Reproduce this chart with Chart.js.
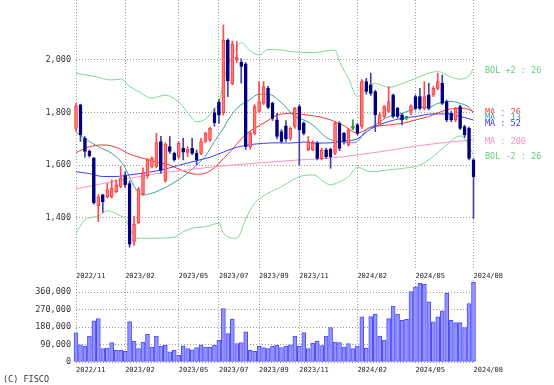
<!DOCTYPE html>
<html><head><meta charset="utf-8">
<script src="https://cdn.jsdelivr.net/npm/chart.js@4.4.1/dist/chart.umd.min.js"></script>
<style>
html,body{margin:0;padding:0;background:#fff;}
#wrap{position:relative;width:554px;height:385px;overflow:hidden;background:#fff;}
#c1{position:absolute;left:0;top:0;}
#c2{position:absolute;left:0;top:270px;}
.lbl{position:absolute;font:8.5px 'DejaVu Sans Mono',monospace;white-space:nowrap;line-height:8px;background:#fff;}
</style></head><body>
<div id="wrap">
<canvas id="c1" width="554" height="282"></canvas>
<canvas id="c2" width="554" height="115"></canvas>
<div class="lbl" style="left:485px;top:66px;color:#5ccf7c">BOL +2 : 26</div>
<div class="lbl" style="left:485px;top:108px;color:#ff3a3a">MA : 26</div>
<div class="lbl" style="left:485px;top:113px;color:#3a9f9f">MA : 13</div>
<div class="lbl" style="left:485px;top:119px;color:#3434ff">MA : 52</div>
<div class="lbl" style="left:485px;top:137px;color:#ff8cc6">MA : 200</div>
<div class="lbl" style="left:485px;top:152px;color:#5ccf7c">BOL -2 : 26</div>
<div class="lbl" style="left:3px;top:375px;color:#333;background:transparent">(C) FISCO</div>
</div>
<script>
// ---- tick labels (x positions are week indices) ----
const dateTickIdx = [0, 11, 23, 32, 41, 50, 63, 76, 89];
const dateTickLabels = ['2022/11','2023/02','2023/05','2023/07','2023/09','2023/11','2024/02','2024/05','2024/08'];
const priceTicks = [1400, 1600, 1800, 2000];
const volumeTicks = [0, 90000, 180000, 270000, 360000];

// ---- weekly candles ----
const open  = [1740,1829,1702,1654,1626,1445,1487,1480,1480,1499,1518,1560,1530,1310,1380,1490,1560,1595,1595,1690,
               1540,1671,1645,1632,1664,1648,1664,1645,1645,1690,1696,1800,1840,1800,2076,1910,2000,1992,1985,1669,
               1721,1804,1835,1892,1835,1772,1728,1750,1702,1747,1823,1759,1658,1658,1683,1626,1658,1660,1645,1759,
               1721,1677,1740,1753,1747,1918,1905,1880,1759,1785,1804,1867,1816,1791,1778,1804,1861,1861,1816,1867,
               1867,1892,1911,1842,1797,1772,1823,1747,1740,1620];
const high  = [1835,1832,1709,1658,1630,1488,1490,1530,1544,1544,1595,1575,1540,1405,1515,1590,1625,1632,1721,1710,
               1685,1709,1650,1690,1702,1671,1702,1658,1702,1725,1745,1815,1850,2133,2080,2072,2070,2005,1990,1727,
               1830,1918,1918,1900,1840,1797,1735,1770,1745,1820,1830,1765,1709,1693,1690,1665,1665,1665,1765,1765,
               1725,1740,1772,1760,1925,1930,1950,1885,1800,1828,1899,1870,1820,1797,1785,1829,1867,1892,1918,1911,
               1899,1950,1943,1848,1805,1820,1828,1752,1745,1625];
const low   = [1728,1690,1630,1630,1452,1385,1420,1475,1475,1495,1515,1515,1288,1295,1378,1485,1550,1590,1590,1570,
               1535,1645,1615,1625,1620,1632,1640,1601,1640,1686,1690,1748,1760,1790,1860,1905,1990,1912,1660,1660,
               1715,1800,1830,1815,1770,1700,1685,1690,1695,1740,1601,1715,1655,1655,1620,1620,1626,1588,1640,1655,
               1680,1672,1734,1715,1740,1870,1865,1728,1750,1780,1800,1780,1780,1753,1772,1791,1810,1810,1810,1810,
               1860,1887,1830,1765,1765,1765,1735,1705,1620,1398];
const close = [1825,1715,1652,1636,1457,1480,1461,1506,1512,1525,1550,1525,1300,1375,1510,1570,1620,1626,1686,1580,
               1680,1652,1620,1683,1649,1660,1645,1620,1690,1721,1740,1762,1790,2076,1920,2060,2010,1975,1670,1721,
               1823,1842,1899,1820,1778,1709,1690,1700,1740,1816,1734,1721,1690,1683,1626,1658,1632,1632,1759,1664,
               1690,1734,1742,1721,1918,1880,1873,1791,1791,1823,1842,1785,1785,1772,1780,1825,1816,1816,1861,1816,
               1892,1918,1835,1772,1772,1816,1740,1715,1626,1556];
const volume = [150000,89000,81000,134000,212000,224000,69000,72000,100000,60000,
                60000,55000,208000,108000,69000,103000,143000,77000,133000,81000,
                86000,52000,60000,34000,83000,69000,62000,74000,88000,77000,
                77000,86000,112000,275000,146000,219000,95000,100000,155000,60000,
                55000,81000,74000,69000,81000,86000,74000,81000,88000,134000,
                81000,151000,69000,96000,108000,84000,134000,177000,103000,100000,
                77000,95000,69000,81000,232000,72000,234000,246000,134000,112000,
                224000,288000,246000,215000,219000,362000,387000,405000,400000,310000,
                207000,232000,263000,353000,215000,203000,203000,177000,301000,410000];

// ---- indicator lines: [week index, value] ----
const bolUpper = [[0,1949],[4,1938],[8,1924],[10,1927],[12,1900],[14,1880],[17,1855],[20,1866],[23,1840],[25,1800],
  [27,1765],[29,1775],[31,1815],[32,1835],[33,1920],[35,2015],[37,2066],[39,2035],[41,2019],[43,2040],[46,2038],
  [48,2032],[53,2028],[58,2038],[59,1994],[61,1930],[63,1861],[65,1890],[67,1911],[70,1896],[73,1910],[76,1930],
  [79,1950],[81,1956],[84,1935],[86,1927],[88,1940],[89,1968]];
const bolLower = [[0,1341],[2,1392],[5,1407],[7,1427],[10,1407],[11,1398],[12,1360],[13,1330],[14,1322],[16,1322],
  [22,1326],[24,1347],[26,1360],[29,1366],[32,1379],[33,1341],[36,1322],[38,1395],[40,1455],[43,1493],[46,1518],
  [50,1556],[53,1563],[57,1525],[59,1537],[61,1556],[63,1592],[66,1575],[70,1582],[75,1592],[77,1600],[80,1633],
  [83,1677],[86,1711],[87,1700],[89,1639]];
const ma13 = [[0,1725],[3,1690],[5,1670],[8,1645],[10,1615],[11,1590],[12,1555],[13,1520],[14,1497],[15,1487],
  [17,1493],[20,1515],[23,1545],[25,1570],[27,1600],[29,1635],[31,1690],[32,1715],[33,1740],[34,1770],[36,1816],
  [39,1850],[41,1870],[43,1870],[46,1838],[49,1785],[51,1772],[53,1753],[56,1706],[58,1692],[60,1688],[62,1685],
  [63,1690],[65,1734],[67,1753],[70,1785],[72,1791],[75,1810],[77,1820],[79,1820],[81,1835],[84,1842],[86,1835],
  [88,1820],[89,1797]];
const ma26 = [[0,1648],[3,1670],[6,1677],[9,1668],[12,1642],[15,1626],[18,1612],[21,1600],[24,1578],[27,1565],
  [29,1570],[31,1590],[33,1625],[35,1660],[37,1700],[39,1730],[41,1750],[43,1770],[45,1790],[48,1797],[52,1790],
  [55,1782],[57,1772],[60,1750],[63,1722],[66,1744],[70,1753],[73,1759],[76,1772],[79,1785],[82,1805],[85,1816],
  [87,1816],[89,1804]];
const ma52 = [[0,1575],[3,1568],[6,1557],[9,1557],[12,1563],[15,1570],[18,1578],[21,1590],[24,1604],[27,1617],
  [30,1630],[33,1650],[36,1668],[39,1678],[42,1683],[45,1685],[48,1684],[51,1688],[54,1684],[57,1685],[60,1692],
  [63,1700],[66,1738],[70,1766],[73,1778],[76,1785],[80,1795],[83,1795],[86,1785],[89,1772]];
const ma200 = [[0,1510],[6,1530],[12,1550],[18,1568],[24,1580],[30,1592],[36,1602],[43,1611],[50,1620],[57,1627],
  [63,1639],[70,1656],[76,1672],[83,1687],[89,1696]];

// ---- styling ----
const MONO = "'DejaVu Sans Mono', monospace";
const GRID = '#9a9a9a';
const idx = open.map((_, i) => i);
const kind = idx.map(i => Math.abs(close[i] - open[i]) <= 2 ? 'n' : (close[i] > open[i] ? 'u' : 'd'));
const bodyFill = kind.map(k => k === 'n' ? '#2f9a3a' : (k === 'u' ? '#ff7c7c' : '#000080'));
const bodyEdge = kind.map(k => k === 'n' ? '#2f9a3a' : (k === 'u' ? '#ff3c3c' : '#000080'));
const wickCol  = kind.map(k => k === 'n' ? '#2f9a3a' : (k === 'u' ? '#ff4a4a' : '#4444a8'));

const toXY = arr => arr.map(p => ({x: p[0], y: p[1]}));
const lineDs = (arr, color) => ({
  type: 'line', data: toXY(arr), borderColor: color, borderWidth: 1, pointRadius: 0,
  cubicInterpolationMode: 'monotone', fill: false, order: 5
});

function xScale(h, z) {
  return {
    type: 'linear', min: 0, max: 89, offset: false, z: z,
    grid: {color: GRID, lineWidth: 1, drawTicks: false, offset: false},
    border: {display: false, dash: [1, 2]},
    ticks: {
      align: 'start', padding: 4, maxRotation: 0, autoSkip: false,
      font: {family: MONO, size: 7}, color: '#222',
      callback: v => { const k = dateTickIdx.indexOf(v); return k >= 0 ? dateTickLabels[k] : ''; }
    },
    afterBuildTicks: s => { s.ticks = dateTickIdx.map(v => ({value: v})); },
    afterFit: s => { s.height = h; s.paddingLeft = 0; s.paddingRight = 0; }
  };
}
function yScale(min, max, ticks, z) {
  return {
    type: 'linear', min: min, max: max, z: z,
    grid: {color: GRID, lineWidth: 1, drawTicks: false},
    border: {display: false, dash: [1, 2]},
    ticks: {padding: 5, font: {family: MONO, size: 8.5}, color: '#333',
            callback: v => v.toLocaleString('en-US')},
    afterBuildTicks: s => { s.ticks = ticks.map(v => ({value: v})); },
    afterFit: s => { s.width = 76; s.paddingTop = 0; s.paddingBottom = 0; }
  };
}

// ---- price panel ----
new Chart(document.getElementById('c1'), {
  data: {
    datasets: [
      lineDs(bolUpper, '#78dc8e'),
      lineDs(bolLower, '#78dc8e'),
      lineDs(ma200, '#ff90c8'),
      lineDs(ma52, '#3c3cff'),
      lineDs(ma26, '#ff3434'),
      lineDs(ma13, '#3a9f9f'),
      {
        type: 'bar', order: 2, grouped: false, clip: false,
        data: idx.map(i => ({x: i, y: [low[i], high[i]]})),
        backgroundColor: wickCol, borderWidth: 0, barThickness: 1
      },
      {
        type: 'bar', order: 1, grouped: false, clip: false, minBarLength: 2,
        data: idx.map(i => ({x: i, y: [open[i], close[i]]})),
        backgroundColor: bodyFill, borderColor: bodyEdge, borderWidth: 1, borderSkipped: false, barThickness: 3
      }
    ]
  },
  options: {
    responsive: false, animation: false, events: [],
    layout: {padding: {left: 0, right: 80.5, top: 0, bottom: 0}},
    plugins: {legend: {display: false}, tooltip: {enabled: false}},
    scales: {
      x: xScale(14, 0),
      y: yScale(1209, 2228, priceTicks, 0)
    }
  }
});

// ---- volume panel ----
new Chart(document.getElementById('c2'), {
  data: {
    datasets: [{
      type: 'bar', grouped: false, clip: false,
      data: idx.map(i => ({x: i, y: volume[i]})),
      backgroundColor: '#9494ff', borderColor: '#4c4cff', borderWidth: 1, borderSkipped: false, barThickness: 4
    }]
  },
  options: {
    responsive: false, animation: false, events: [],
    layout: {padding: {left: 0, right: 80.5, top: 10, bottom: 0}},
    plugins: {legend: {display: false}, tooltip: {enabled: false}},
    scales: {
      x: xScale(23, 1),
      y: yScale(0, 422000, volumeTicks, 1)
    }
  }
});
</script>
</body></html>
